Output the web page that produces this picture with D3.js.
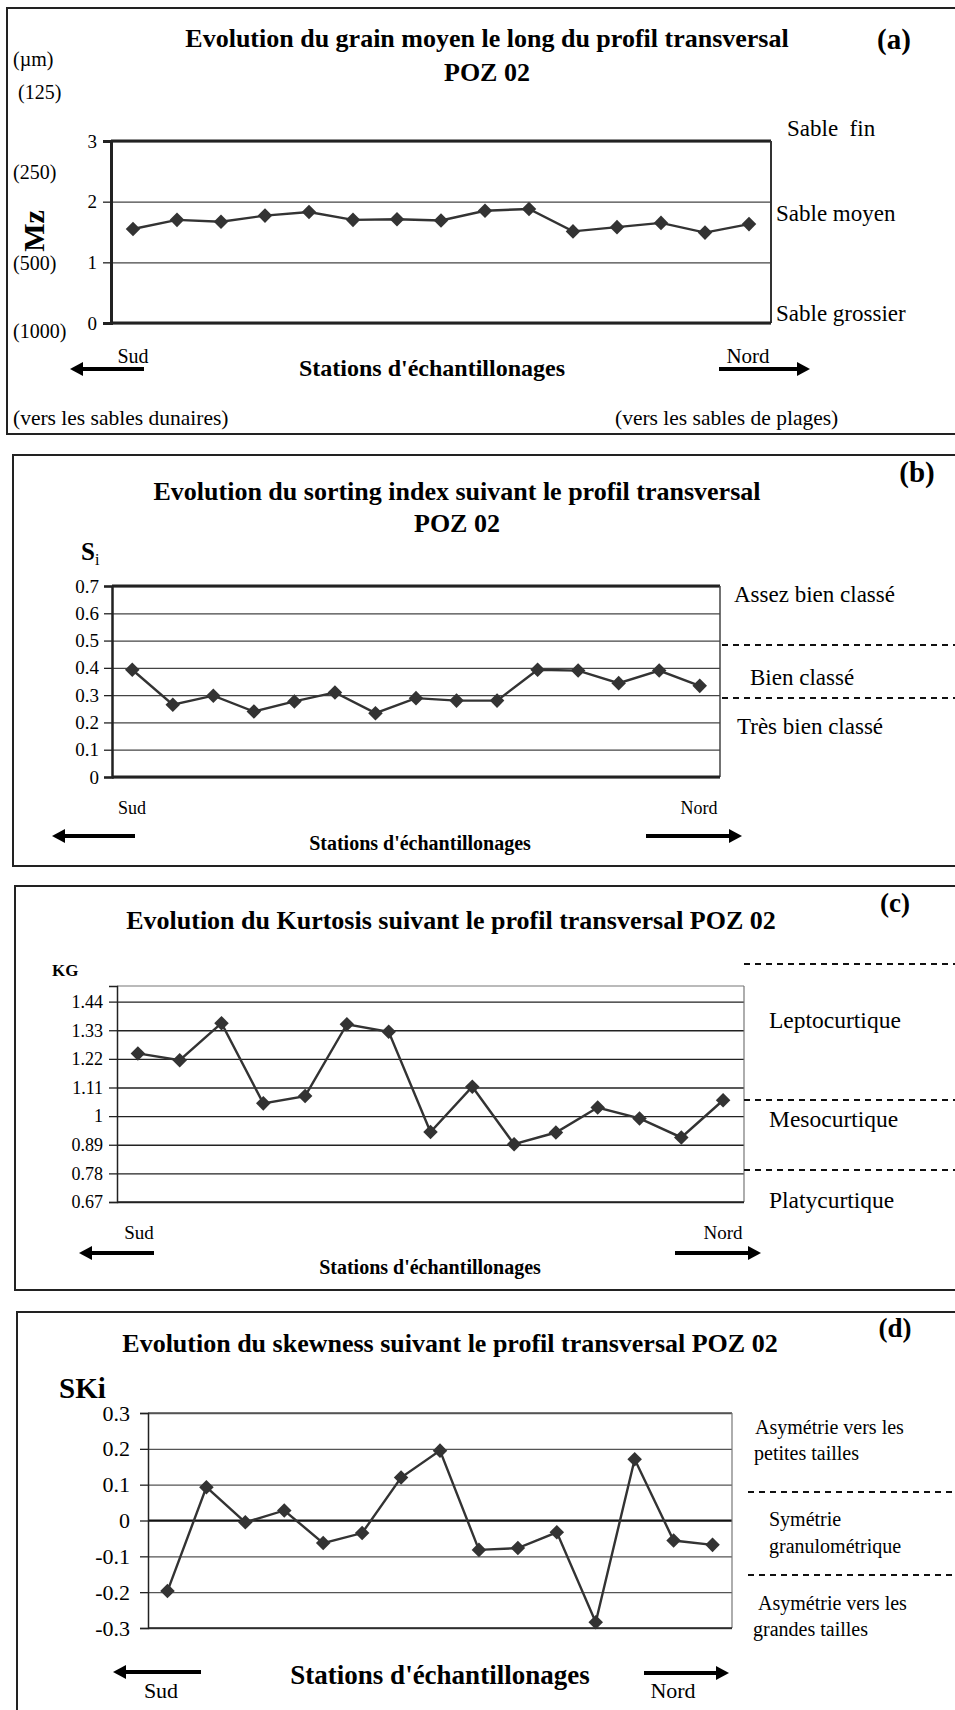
<!DOCTYPE html>
<html>
<head>
<meta charset="utf-8">
<script src="https://cdn.jsdelivr.net/npm/d3@7"></script>
<style>
  body { margin: 0; background: #fff; }
  svg text { font-family: "Liberation Serif", "Times New Roman", serif; fill: #000; }
  .bold { font-weight: bold; }
</style>
</head>
<body>
<div id="main"></div>
<script>
// sampling stations, south -> north
var stations = ["1","2","3","4","5","6","7","8","9","10","11","12","13","14","15"];

// (a) mean grain size Mz
var mzValues = [1.55, 1.70, 1.67, 1.77, 1.83, 1.70, 1.71, 1.69, 1.85, 1.88, 1.51, 1.58, 1.65, 1.49, 1.63];
var mzTicks = [0, 1, 2, 3];
var mzMicrons = ["(125)", "(250)", "(500)", "(1000)"];
var mzClasses = ["Sable  fin", "Sable moyen", "Sable grossier"];

// (b) sorting index Si
var siValues = [0.393, 0.265, 0.298, 0.240, 0.277, 0.310, 0.234, 0.289, 0.280, 0.280, 0.393, 0.390, 0.344, 0.390, 0.334];
var siTicks = [0, 0.1, 0.2, 0.3, 0.4, 0.5, 0.6, 0.7];
var siClasses = ["Assez bien classé", "Bien classé", "Très bien classé"];

// (c) kurtosis KG
var kgValues = [1.241, 1.215, 1.357, 1.049, 1.077, 1.353, 1.324, 0.939, 1.113, 0.892, 0.937, 1.033, 0.991, 0.918, 1.061];
var kgTicks = [0.67, 0.78, 0.89, 1, 1.11, 1.22, 1.33, 1.44];
var kgMax = 1.5;
var kgClasses = ["Leptocurtique", "Mesocurtique", "Platycurtique"];

// (d) skewness SKi
var skiValues = [-0.197, 0.093, -0.005, 0.028, -0.063, -0.035, 0.120, 0.195, -0.082, -0.077, -0.033, -0.284, 0.171, -0.056, -0.068];
var skiTicks = [-0.3, -0.2, -0.1, 0, 0.1, 0.2, 0.3];
var skiClasses = ["Asymétrie vers les", "petites tailles", "Symétrie", "granulométrique", "Asymétrie vers les", "grandes tailles"];

var ctx = { w: 955, h: 1710, ink: "#333" };

var svg = d3.select("#main").append("svg")
    .attr("width", ctx.w).attr("height", ctx.h);

var diamond = d3.symbol().type(d3.symbolDiamond2 || d3.symbolDiamond).size(135);

var fmt = function(d){ return String(+d.toFixed(2)); };

var addText = function(g, x, y, txt, size, opts){
    opts = opts || {};
    var t = g.append("text")
      .attr("x", x).attr("y", y)
      .attr("dominant-baseline", "central")
      .attr("text-anchor", opts.anchor || "start")
      .style("font-size", size + "px")
      .style("white-space", "pre")
      .classed("bold", !!opts.bold)
      .text(txt);
    return t;
};

var arrow = function(g, x1, x2, y){
    var dir = x2 > x1 ? 1 : -1;
    g.append("line")
      .attr("x1", x1).attr("y1", y)
      .attr("x2", x2 - dir*11).attr("y2", y)
      .attr("stroke", "#000").attr("stroke-width", 4);
    g.append("path")
      .attr("d", `M${x2},${y} L${x2 - dir*13},${y-7} L${x2 - dir*13},${y+7} Z`)
      .attr("fill", "#000");
};

var dashed = function(g, y, x1){
    g.append("line")
      .attr("x1", x1).attr("x2", ctx.w).attr("y1", y).attr("y2", y)
      .attr("stroke", "#111").attr("stroke-width", 2)
      .attr("stroke-dasharray", "6,5");
};

var drawPlot = function(g, cfg){
    var x = d3.scaleBand().domain(stations).range([cfg.x0, cfg.x1]);
    var y = d3.scaleLinear().domain(cfg.domain).range([cfg.y1, cfg.y0]);
    var cx = function(d, i){ return x(stations[i]) + x.bandwidth()/2; };

    // gridlines
    g.append("g")
      .attr("transform", `translate(${cfg.x0},0)`)
      .call(d3.axisLeft(y).tickValues(cfg.ticks).tickSize(-(cfg.x1 - cfg.x0)).tickFormat(""))
      .call(function(a){
          a.select(".domain").remove();
          a.selectAll("line").attr("stroke", cfg.gridColor || "#444").attr("stroke-width", 1.3);
      });
    if (cfg.zeroLine) {
        g.append("line")
          .attr("x1", cfg.x0).attr("x2", cfg.x1)
          .attr("y1", y(0)).attr("y2", y(0))
          .attr("stroke", "#111").attr("stroke-width", 2);
    }
    // plot frame
    g.append("line").attr("x1", cfg.x0).attr("x2", cfg.x1).attr("y1", cfg.y0).attr("y2", cfg.y0)
      .attr("stroke", cfg.topColor).attr("stroke-width", cfg.topW);
    g.append("line").attr("x1", cfg.x1).attr("x2", cfg.x1).attr("y1", cfg.y0).attr("y2", cfg.y1)
      .attr("stroke", cfg.rightColor).attr("stroke-width", cfg.rightW);
    g.append("line").attr("x1", cfg.x0).attr("x2", cfg.x1).attr("y1", cfg.y1).attr("y2", cfg.y1)
      .attr("stroke", "#222").attr("stroke-width", cfg.bottomW);
    // y axis with ticks
    g.append("g")
      .attr("transform", `translate(${cfg.x0},0)`)
      .call(d3.axisLeft(y).tickValues(cfg.ticks).tickSize(8).tickPadding(cfg.pad).tickFormat(fmt))
      .call(function(a){
          a.select(".domain").attr("stroke", "#222").attr("stroke-width", cfg.leftW);
          a.selectAll("line").attr("stroke", "#222").attr("stroke-width", 1.3);
          a.selectAll("text")
            .style("font-family", "'Liberation Serif', 'Times New Roman', serif")
            .style("font-size", cfg.tickSize + "px").attr("fill", "#000");
      });

    // series
    g.append("path")
      .datum(cfg.values)
      .attr("fill", "none").attr("stroke", ctx.ink).attr("stroke-width", 2.4)
      .attr("d", d3.line().x(cx).y(function(d){ return y(d); }));
    g.selectAll("path.pt")
      .data(cfg.values)
      .enter().append("path")
      .attr("class", "pt")
      .attr("d", diamond())
      .attr("fill", ctx.ink)
      .attr("transform", function(d, i){ return `translate(${cx(d, i)},${y(d)})`; });
    return y;
};

var frame = function(g, x, y, bottom){
    g.append("rect")
      .attr("x", x).attr("y", y).attr("width", ctx.w + 20 - x).attr("height", bottom - y)
      .attr("fill", "none").attr("stroke", "#222").attr("stroke-width", 2);
};

// ---------- panel (a) ----------
var gA = svg.append("g");
frame(gA, 7, 8, 434);
drawPlot(gA, {x0: 111, x1: 771, y0: 141, y1: 323, domain: [0, 3], ticks: mzTicks,
              values: mzValues, tickSize: 19, pad: 6,
              topColor: "#222", topW: 3, rightColor: "#333", rightW: 2, bottomW: 3, leftW: 3});
addText(gA, 487, 38, "Evolution du grain moyen le long du profil transversal", 26, {anchor: "middle", bold: true});
addText(gA, 487, 72, "POZ 02", 26, {anchor: "middle", bold: true});
addText(gA, 894, 39, "(a)", 29, {anchor: "middle", bold: true});
addText(gA, 13, 59, "(µm)", 20);
var micronY = [92, 172, 263, 331];
mzMicrons.forEach(function(t, i){ addText(gA, i === 0 ? 18 : 13, micronY[i], t, 20); });
addText(gA, 0, 0, "Mz", 30, {anchor: "middle", bold: true})
  .attr("transform", "translate(33,231) rotate(-90)");
addText(gA, 787, 128, mzClasses[0], 23);
addText(gA, 776, 213, mzClasses[1], 23);
addText(gA, 776, 313, mzClasses[2], 23);
addText(gA, 133, 356, "Sud", 20, {anchor: "middle"});
addText(gA, 748, 356, "Nord", 21, {anchor: "middle"});
addText(gA, 432, 368, "Stations d'échantillonages", 24, {anchor: "middle", bold: true});
arrow(gA, 144, 70, 369);
arrow(gA, 719, 810, 369);
addText(gA, 13, 418, "(vers les sables dunaires)", 21.5);
addText(gA, 615, 418, "(vers les sables de plages)", 21.5);

// ---------- panel (b) ----------
var gB = svg.append("g");
frame(gB, 13, 455, 866);
drawPlot(gB, {x0: 112, x1: 720, y0: 586, y1: 777, domain: [0, 0.7], ticks: siTicks,
              values: siValues, tickSize: 19, pad: 5,
              topColor: "#222", topW: 3, rightColor: "#444", rightW: 1.5, bottomW: 3, leftW: 2.5});
addText(gB, 457, 491, "Evolution du sorting index suivant le profil transversal", 26, {anchor: "middle", bold: true});
addText(gB, 457, 523, "POZ 02", 26, {anchor: "middle", bold: true});
addText(gB, 917, 472, "(b)", 29, {anchor: "middle", bold: true});
var siLab = gB.append("text").attr("x", 81).attr("y", 560).style("font-size", "25px");
siLab.append("tspan").style("font-weight", "bold").text("S");
siLab.append("tspan").attr("dy", 5).style("font-size", "16px").text("i");
addText(gB, 734, 594, siClasses[0], 23);
addText(gB, 750, 677, siClasses[1], 23);
addText(gB, 737, 726, siClasses[2], 23);
dashed(gB, 645, 722);
dashed(gB, 698, 722);
addText(gB, 132, 808, "Sud", 18, {anchor: "middle"});
addText(gB, 699, 808, "Nord", 18, {anchor: "middle"});
addText(gB, 420, 843, "Stations d'échantillonages", 20, {anchor: "middle", bold: true});
arrow(gB, 135, 52, 836);
arrow(gB, 646, 742, 836);

// ---------- panel (c) ----------
var gC = svg.append("g");
frame(gC, 15, 886, 1290);
drawPlot(gC, {x0: 117, x1: 744, y0: 986, y1: 1202, domain: [0.67, kgMax], ticks: kgTicks,
              values: kgValues, tickSize: 18, pad: 6, gridColor: "#222",
              topColor: "#777", topW: 1.2, rightColor: "#777", rightW: 1.2, bottomW: 1.5, leftW: 1.5});
addText(gC, 451, 920, "Evolution du Kurtosis suivant le profil transversal POZ 02", 26, {anchor: "middle", bold: true});
addText(gC, 895, 903, "(c)", 27, {anchor: "middle", bold: true});
addText(gC, 52, 970, "KG", 17, {bold: true});
addText(gC, 769, 1020, kgClasses[0], 23.5);
addText(gC, 769, 1119, kgClasses[1], 23.5);
addText(gC, 769, 1200, kgClasses[2], 23.5);
dashed(gC, 964, 744);
dashed(gC, 1100, 744);
dashed(gC, 1170, 744);
addText(gC, 139, 1232, "Sud", 19, {anchor: "middle"});
addText(gC, 723, 1232, "Nord", 19, {anchor: "middle"});
addText(gC, 430, 1267, "Stations d'échantillonages", 20, {anchor: "middle", bold: true});
arrow(gC, 154, 79, 1253);
arrow(gC, 675, 761, 1253);

// ---------- panel (d) ----------
var gD = svg.append("g");
frame(gD, 17, 1312, 1730);
drawPlot(gD, {x0: 148, x1: 732, y0: 1413, y1: 1628, domain: [-0.3, 0.3], ticks: skiTicks,
              values: skiValues, tickSize: 22, pad: 10, gridColor: "#555", zeroLine: true,
              topColor: "#555", topW: 1.3, rightColor: "#777", rightW: 1.2, bottomW: 1.5, leftW: 1.5});
addText(gD, 450, 1343, "Evolution du skewness suivant le profil transversal POZ 02", 26, {anchor: "middle", bold: true});
addText(gD, 895, 1328, "(d)", 27, {anchor: "middle", bold: true});
addText(gD, 59, 1388, "SKi", 29, {bold: true});
var skiY = [1427, 1453, 1519, 1546, 1603, 1629];
var skiX = [755, 754, 769, 769, 758, 753];
skiClasses.forEach(function(t, i){ addText(gD, skiX[i], skiY[i], t, 20); });
dashed(gD, 1492, 748);
dashed(gD, 1575, 748);
addText(gD, 161, 1690, "Sud", 22, {anchor: "middle"});
addText(gD, 673, 1690, "Nord", 22, {anchor: "middle"});
addText(gD, 440, 1675, "Stations d'échantillonages", 27, {anchor: "middle", bold: true});
arrow(gD, 201, 113, 1672);
arrow(gD, 644, 729, 1673);
</script>
</body>
</html>
